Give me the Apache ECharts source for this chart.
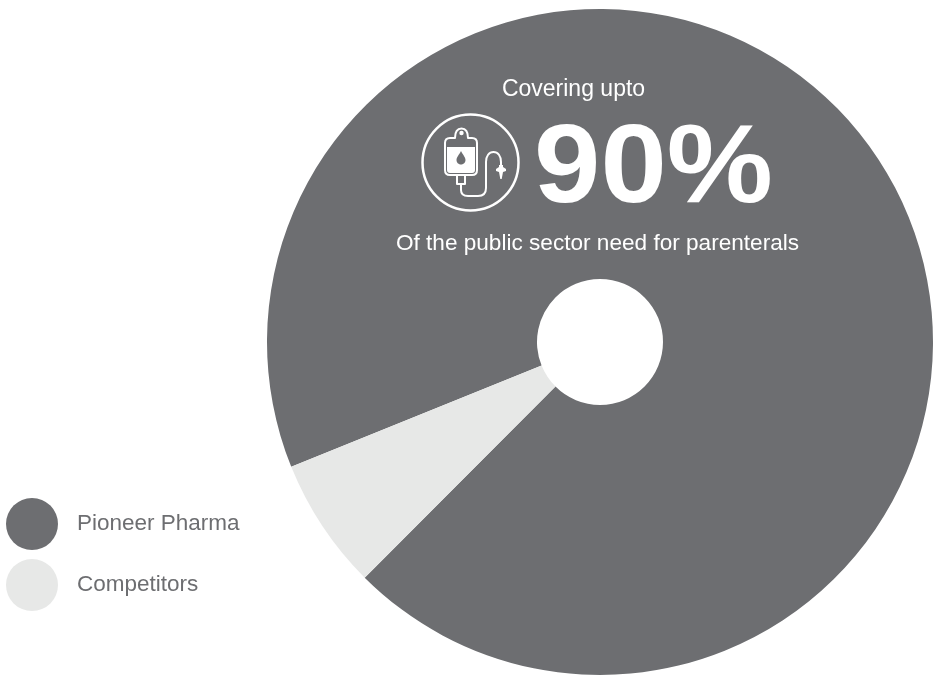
<!DOCTYPE html>
<html>
<head>
<meta charset="utf-8">
<style>html,body{margin:0;padding:0;background:#fff}#c{width:933px;height:676px}</style>
<script src="https://cdn.jsdelivr.net/npm/echarts@6/dist/echarts.min.js"></script>
</head>
<body>
<div id="c"></div>
<script>
const categories = ["Pioneer Pharma", "Competitors"];
const shares = [93.6, 6.4];
const colors = ["#6d6e71", "#e7e8e7"];
const headline = "Covering upto";
const bigNumber = "90%";
const subline = "Of the public sector need for parenterals";

const font = '"Liberation Sans", Arial, sans-serif';
const iconPaths = {
  bagOutline: 'M450 138 H455 C455 132 457 128.500 461.500 128.500 C466 128.500 468 132 468 138 H472 Q477 138 477 143 V170 Q477 175 472 175 H450 Q445 175 445 170 V143 Q445 138 450 138 Z',
  bagLiquid: 'M447 147 H475 V170 Q475 173 472 173 H450 Q447 173 447 170 Z M461 151 C459 155 456.500 157 456.500 160 C456.500 163 459 164.500 461 164.500 C463 164.500 465.500 163 465.500 160 C465.500 157 463 155 461 151 Z',
  bagNeck: 'M457 175 V184 H465 V175',
  tube: 'M461 184 V190 C461 194 464 196 468 196 H478 C483 196 486 193 486 188 V162 C486 156 489 152 493.5 152 C498 152 501 156 501 162 V166',
  spike: 'M499 165 H503 V167 L506 169 V171 L503 172 L501.700 179 H500.300 L499 172 L496 171 V169 L499 167 Z'
};
Object.keys(iconPaths).forEach(k => {
  echarts.graphic.registerShape(k, echarts.graphic.extendPath(iconPaths[k], {}));
});
const chart = echarts.init(document.getElementById('c'), null, {renderer: 'canvas'});
const stroke = {stroke: '#fff', lineWidth: 2, fill: 'none', lineCap: 'round', lineJoin: 'round'};
const Z = 20;
chart.setOption({
  animation: false,
  backgroundColor: '#fff',
  color: colors,
  legend: {
    orient: 'vertical', left: 6, top: 498, padding: 0, icon: 'circle',
    itemWidth: 52, itemHeight: 52, itemGap: 9, selectedMode: false,
    data: categories,
    textStyle: {fontFamily: font, fontSize: 22.5, color: '#6d6e71', padding: [0, 0, 8, 14]}
  },
  series: [{
    type: 'pie', center: [600, 342], radius: [63, 333], startAngle: 202, clockwise: true,
    silent: true, label: {show: false}, labelLine: {show: false},
    data: categories.map((name, i) => ({name, value: shares[i]}))
  }],
  graphic: [
    {type: 'text', z: Z, x: 573.5, y: 90, silent: true, style: {text: headline, fill: '#fff', font: '23px ' + font, align: 'center', verticalAlign: 'middle'}},
    {type: 'text', z: Z, x: 534, y: 171, scaleX: 1.012, scaleY: 0.95, silent: true, style: {text: bigNumber, fill: '#fff', font: 'bold 118px ' + font, align: 'left', verticalAlign: 'middle'}},
    {type: 'text', z: Z, x: 597.5, y: 244, silent: true, style: {text: subline, fill: '#fff', font: '22.6px ' + font, align: 'center', verticalAlign: 'middle'}},
    {type: 'circle', z: Z, silent: true, shape: {cx: 470.5, cy: 162.5, r: 48}, style: {stroke: '#fff', lineWidth: 2.5, fill: 'none'}},
    {type: 'bagOutline', z: Z, silent: true, style: stroke},
    {type: 'circle', z: Z, silent: true, shape: {cx: 461.5, cy: 133, r: 2.2}, style: {fill: '#fff'}},
    {type: 'bagLiquid', z: Z, silent: true, style: {fill: '#fff', stroke: 'none', fillRule: 'evenodd'}},
    {type: 'bagNeck', z: Z, silent: true, style: stroke},
    {type: 'tube', z: Z, silent: true, style: stroke},
    {type: 'spike', z: Z, silent: true, style: {fill: '#fff', stroke: 'none'}}
  ]
});
</script>
</body>
</html>
